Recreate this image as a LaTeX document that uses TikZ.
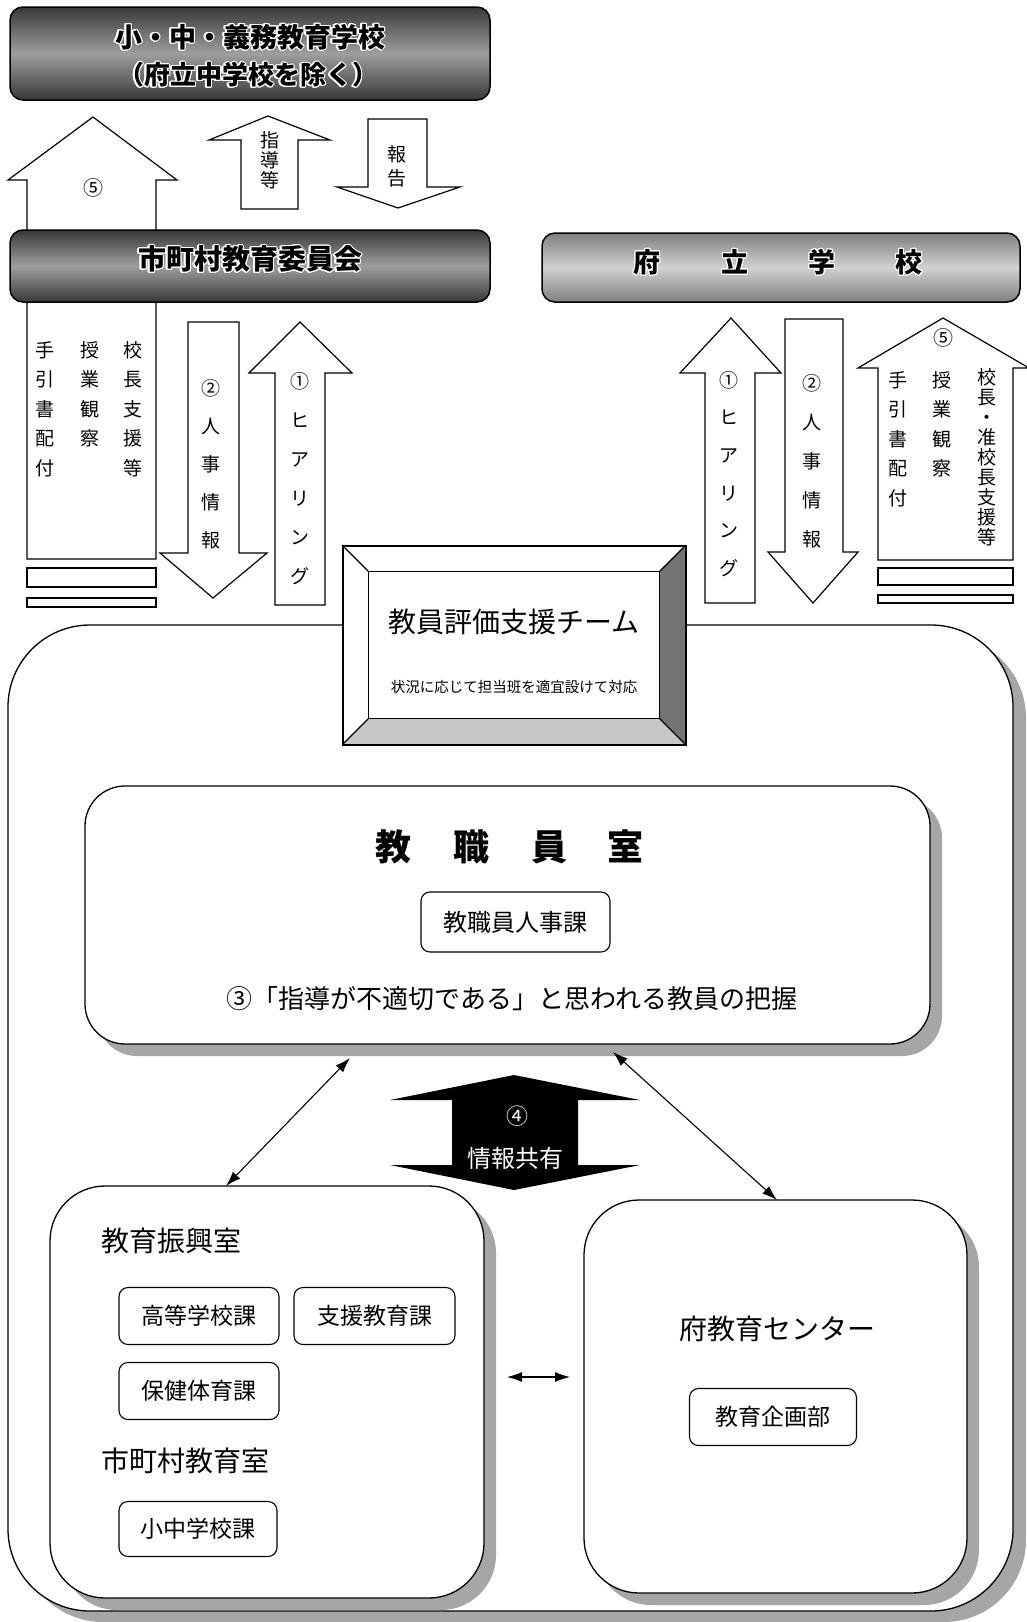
\documentclass[tikz,border=0pt]{standalone}
\usepackage{fontspec}
\setmainfont{Noto Sans CJK JP}
\usepackage[copies]{contour}
\contourlength{1.1pt}
\usetikzlibrary{arrows.meta,shadows}

\tikzset{
  tx/.style={inner sep=0pt, anchor=base, font=\fontsize{#1pt}{#1pt}\selectfont, yshift={-0.38*#1pt}},
  barrow/.style={draw=black, fill=white, line width=1.2pt, line join=miter},
  tbar/.style={draw=black, fill=white, line width=1.1pt},
  darkbox/.style={draw=black, line width=1.5pt, rounded corners=13pt, inner sep=0pt,
     top color=black!78, bottom color=black!78, middle color=black!38},
  lightbox/.style={draw=black, line width=1.5pt, rounded corners=13pt, inner sep=0pt,
     top color=black!50, bottom color=black!50, middle color=black!18},
  room/.style={draw=black, line width=1.3pt, fill=white, inner sep=0pt},
  shad/.style={drop shadow={shadow xshift=12pt, shadow yshift=-12pt, fill=black!35, opacity=1}},
  subbox/.style={draw=black, line width=1.1pt, rounded corners=9pt, fill=white, inner sep=0pt},
  conn/.style={{Latex[length=15pt,width=10pt]}-{Latex[length=15pt,width=10pt]}, line width=1.1pt},
}

% name, x, y0, step, size, chars
\newcommand{\vcol}[6]{%
  \foreach \ch [count=\k from 0] in {#6} {
    \node[tx=#5] (#1\k) at ({#2},{#3+\k*#4}) {\ch};
  }%
}

\begin{document}
\begin{tikzpicture}[x=1pt,y=-1pt]
\fill[white] (0,0) rectangle (1027,1622);
\useasboundingbox (0,0) rectangle (1027,1622);

% ---------- block arrows (top) ----------
\draw[barrow] (93,117) -- (177,180) -- (156,180) -- (156,559) -- (27,559) -- (27,180) -- (8,180) -- cycle;
\draw[tbar] (27,568) rectangle (156,587);
\draw[tbar] (27,598) rectangle (156,607);

\draw[barrow] (268,116) -- (330,140) -- (298,140) -- (298,209) -- (241,209) -- (241,140) -- (209,140) -- cycle;
\draw[barrow] (368,119) -- (427,119) -- (427,187) -- (460,187) -- (398,208) -- (337,187) -- (368,187) -- cycle;

\draw[barrow] (188,322) -- (239,322) -- (239,553) -- (267,553) -- (213,598) -- (160,553) -- (188,553) -- cycle;
\draw[barrow] (300,322) -- (352,373) -- (325,373) -- (325,605) -- (275,605) -- (275,373) -- (249,373) -- cycle;

\draw[barrow] (731,318) -- (781,373) -- (755,373) -- (755,603) -- (705,603) -- (705,373) -- (680,373) -- cycle;
\draw[barrow] (785,319) -- (843,319) -- (843,552) -- (858,552) -- (813,603) -- (768,552) -- (785,552) -- cycle;
\draw[barrow] (943,318) -- (1029,368) -- (1013,368) -- (1013,560) -- (878,560) -- (878,368) -- (858,368) -- cycle;
\draw[tbar] (878,568) rectangle (1013,585);
\draw[tbar] (878,595) rectangle (1013,603);

% ---------- top boxes ----------
\node[darkbox, minimum width=480, minimum height=93] (gimu) at (250,53.5) {};
\node[tx=27] (gimu1) at (250,37) {\contour{white}{\bfseries 小・中・義務教育学校}};
\node[tx=26] (gimu2) at (248,75) {\contour{white}{\bfseries （府立中学校を除く）}};

\node[darkbox, minimum width=480, minimum height=72] (shicho) at (250,266) {};
\node[tx=28] (shicho1) at (250,259) {\contour{white}{\bfseries 市町村教育委員会}};

\node[lightbox, minimum width=478, minimum height=69] (furitsu) at (781,267.5) {};
\node[tx=27] (fu1) at (647,262) {\contour{white}{\bfseries 府}};
\node[tx=27] (fu2) at (735,262) {\contour{white}{\bfseries 立}};
\node[tx=27] (fu3) at (822,262) {\contour{white}{\bfseries 学}};
\node[tx=27] (fu4) at (909,262) {\contour{white}{\bfseries 校}};

% ---------- arrow texts ----------
\node[tx=20] (l5) at (93,188) {⑤};
\node[tx=20] (r5) at (943,338) {⑤};
\vcol{la}{45}{350}{29.5}{19}{手,引,書,配,付}
\vcol{lb}{90}{350}{29.5}{19}{授,業,観,察}
\vcol{lc}{133}{350}{29.5}{19}{校,長,支,援,等}
\vcol{ltwo}{211}{388}{38}{19}{②,人,事,情,報}
\vcol{lone}{300}{381}{39}{19}{①,ヒ,ア,リ,ン,グ}
\vcol{rone}{729}{380}{37.6}{19}{①,ヒ,ア,リ,ン,グ}
\vcol{rtwo}{812}{383}{39}{19}{②,人,事,情,報}
\vcol{ra}{898}{380}{29.5}{19}{手,引,書,配,付}
\vcol{rb}{942}{380}{29.5}{19}{授,業,観,察}
\vcol{rc}{987}{377}{20}{19}{校,長,・,准,校,長,支,援,等}
\vcol{sd}{270}{140}{20}{19}{指,導,等}
\vcol{hk}{397}{154}{24}{19}{報,告}

% ---------- big container ----------
\node[room, rounded corners=82pt, minimum width=1005, minimum height=986,
  drop shadow={shadow xshift=13pt, shadow yshift=-11pt, fill=black!35, opacity=1}] (honbu) at (510.5,1118) {};

% ---------- team box (bevel) ----------
\node[draw, line width=1.5pt, fill=white, minimum width=342, minimum height=198, inner sep=0pt] (team) at (514,645) {};
\fill[black!55] (team.north east) -- (team.south east) -- ([shift={(-26,-26)}]team.south east) -- ([shift={(-26,26)}]team.north east) -- cycle;
\fill[black!22] (team.south west) -- (team.south east) -- ([shift={(-26,-26)}]team.south east) -- ([shift={(26,-26)}]team.south west) -- cycle;
\draw[line width=1.2pt] ([shift={(26,26)}]team.north west) rectangle ([shift={(-26,-26)}]team.south east);
\draw[line width=1.1pt] (team.north west) -- ++(26,26);
\draw[line width=1.1pt] (team.north east) -- ++(-26,26);
\draw[line width=1.1pt] (team.south west) -- ++(26,-26);
\draw[line width=1.1pt] (team.south east) -- ++(-26,-26);
\draw[line width=1.5pt] (team.north west) rectangle (team.south east);
\node[tx=28] (team1) at (514,622) {教員評価支援チーム};
\node[tx=14.5] (team2) at (514,687) {状況に応じて担当班を適宜設けて対応};

% ---------- 教職員室 ----------
\node[room, shad, rounded corners=40pt, minimum width=845, minimum height=258] (kyoshoku) at (507.5,915) {};
\node[tx=36] (ks1) at (393,847) {\bfseries 教};
\node[tx=36] (ks2) at (471,847) {\bfseries 職};
\node[tx=36] (ks3) at (549,847) {\bfseries 員};
\node[tx=36] (ks4) at (625,847) {\bfseries 室};
\node[subbox, minimum width=189, minimum height=60] (jinji) at (515.5,922) {};
\node[tx=24] (jinji1) at (515.5,922) {教職員人事課};
\node[tx=26] (haaku) at (512,999) {③「指導が不適切である」と思われる教員の把握};

% ---------- black double arrow ----------
\fill[black] (514,1075) -- (640,1100) -- (578,1100) -- (578,1165) -- (640,1165) -- (514,1190) -- (390,1165) -- (452,1165) -- (452,1100) -- (390,1100) -- cycle;
\node[tx=22, text=white] (kyo4) at (517,1116) {④};
\node[tx=24, text=white] (kyo4b) at (515,1158) {情報共有};

% ---------- lower boxes ----------
\node[room, shad, rounded corners=55pt, minimum width=434, minimum height=412] (shinko) at (267,1392) {};
\node[tx=28, anchor=base west] (shinko1) at (101,1241) {教育振興室};
\node[subbox, minimum width=160, minimum height=57] (koto) at (199,1316) {};
\node[tx=23] (koto1) at (199,1316) {高等学校課};
\node[subbox, minimum width=161, minimum height=57] (shien) at (374.5,1316) {};
\node[tx=23] (shien1) at (374.5,1316) {支援教育課};
\node[subbox, minimum width=160, minimum height=57] (hoken) at (199,1391) {};
\node[tx=23] (hoken1) at (199,1391) {保健体育課};
\node[tx=28, anchor=base west] (shicho2) at (101,1461) {市町村教育室};
\node[subbox, minimum width=158, minimum height=55] (shochu) at (198,1529) {};
\node[tx=23] (shochu1) at (198,1529) {小中学校課};

\node[room, shad, rounded corners=55pt, minimum width=383, minimum height=393] (center) at (775.5,1396.5) {};
\node[tx=28] (center1) at (777,1329) {府教育センター};
\node[subbox, minimum width=167, minimum height=57] (kikaku) at (773,1417) {};
\node[tx=23] (kikaku1) at (773,1417) {教育企画部};

% ---------- connectors ----------
\coordinate (dla) at (350,1058);
\coordinate (dlb) at (226,1186);
\coordinate (dra) at (613,1052);
\coordinate (drb) at (777,1200);
\coordinate (hza) at (507,1377);
\coordinate (hzb) at (570,1377);
\draw[conn] (dla) -- (dlb);
\draw[conn] (dra) -- (drb);
\draw[conn] (hza) -- (hzb);
\end{tikzpicture}
\end{document}
